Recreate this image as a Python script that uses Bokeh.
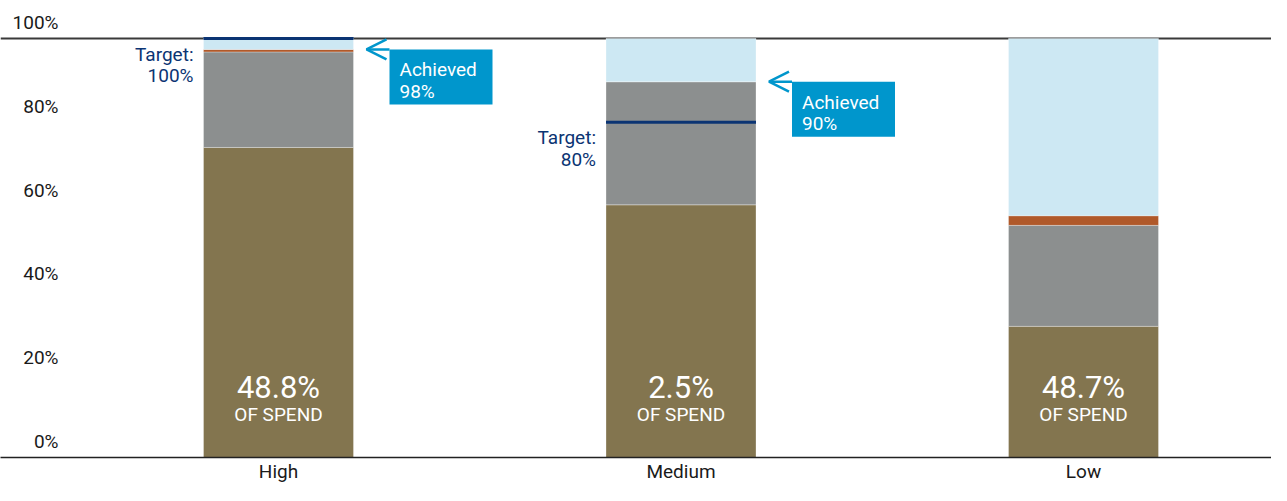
from bokeh.plotting import figure
from bokeh.models import (Range1d, FixedTicker, Span, Label, Arrow, OpenHead,
                          ColumnDataSource)
from bokeh.core.properties import value
from bokeh.embed import file_html
from bokeh.resources import INLINE

# ---------------- data ----------------
categories = ["High", "Medium", "Low"]
seg_base = [74.0, 60.3, 31.3]     # brown
seg_mid = [22.8, 29.4, 24.1]      # grey
seg_top = [0.6, 0.0, 2.3]         # orange
seg_rest = [2.6, 10.3, 42.3]      # light blue
spend_share = ["48.8%", "2.5%", "48.7%"]
targets = [100, 80, None]
achieved = [98, 90, None]
y_ticks = [0, 20, 40, 60, 80, 100]
y_tick_labels = ["0%", "20%", "40%", "60%", "80%", "100%"]

# ---------------- styling ----------------
FONT = "Roboto"
C_BASE = "#83754F"
C_MID = "#8C8F8F"
C_TOP = "#B0592A"
C_REST = "#CDE8F3"
C_NAVY = "#0B3473"
C_CALL = "#0096CC"
C_TEXT = "#1a1a1a"

W_PX, H_PX = 1271, 485
FRAME_H = 457             # frame height left after the x axis panel
TOP_PX = 38               # pixel row of 100%
PX_PER_X = 402.5          # pixels per category step
PX_PER_Y = (FRAME_H - TOP_PX) / 100.0
BAR_W = 150 / PX_PER_X
X_START = 0.5 - 278 / PX_PER_X
X_END = X_START + W_PX / PX_PER_X
Y_END = FRAME_H / PX_PER_Y

xs = [i + 0.5 for i in range(len(categories))]

p = figure(width=W_PX, height=H_PX, output_backend="svg", toolbar_location=None,
           x_range=Range1d(X_START, X_END), y_range=Range1d(0, Y_END),
           min_border_left=0, min_border_right=0, min_border_top=0,
           min_border_bottom=0)
p.outline_line_color = None
p.grid.visible = False
p.yaxis.visible = False
p.background_fill_color = "white"

# top 100% line (behind the bars)
p.add_layout(Span(location=100, dimension="width", line_color="#3a3a3a",
                  line_width=2, level="underlay"))

src = ColumnDataSource(dict(x=xs, base=seg_base, mid=seg_mid, top=seg_top,
                            rest=seg_rest, cat=categories, share=spend_share))
p.vbar_stack(["base", "mid", "top", "rest"], x="x", width=BAR_W,
             color=[C_BASE, C_MID, C_TOP, C_REST], line_color="white",
             line_alpha=0.3, line_width=1, source=src)

# x axis
p.xaxis.ticker = FixedTicker(ticks=xs)
p.xaxis.major_label_overrides = {x: c for x, c in zip(xs, categories)}
p.xaxis.major_tick_line_color = None
p.xaxis.minor_tick_line_color = None
p.xaxis.major_tick_out = 0
p.xaxis.major_tick_in = 0
p.xaxis.minor_tick_out = 0
p.xaxis.axis_line_color = "#222222"
p.xaxis.axis_line_width = 1.5
p.xaxis.major_label_standoff = 2
p.xaxis.major_label_text_font = FONT
p.xaxis.major_label_text_font_size = "19px"
p.xaxis.major_label_text_line_height = 0.8
p.xaxis.major_label_text_color = C_TEXT

# y tick labels (sitting above their value)
for t, lab in zip(y_ticks, y_tick_labels):
    p.add_layout(Label(x=58, x_units="screen", y=t, y_units="data", y_offset=16,
                       text=lab, text_align="right", text_baseline="alphabetic",
                       text_font=FONT, text_font_size="19px", text_color=C_TEXT))

# share-of-spend labels
p.text(x="x", y=0, text="share", source=src, y_offset=-70, text_align="center",
       text_baseline="middle", text_font=value(FONT), text_font_size="31px",
       text_color="white")
p.text(x="x", y=0, text=value("OF SPEND"), source=src, y_offset=-43,
       text_align="center", text_baseline="middle", text_font=value(FONT),
       text_font_size="19px", text_color="white")

# targets and achieved call-outs
for i, (t, a) in enumerate(zip(targets, achieved)):
    if t is None:
        continue
    xc = xs[i]
    left = xc - BAR_W / 2
    right = xc + BAR_W / 2
    p.segment(x0=[left], x1=[right], y0=[t], y1=[t], line_color=C_NAVY,
              line_width=3)
    p.text(x=[left], y=[t], text=[f"Target:\n{t}%"], x_offset=-10, y_offset=4,
           text_align="right", text_baseline="top", text_font=value(FONT),
           text_font_size="19px", text_color=C_NAVY, text_line_height=0.93)

    ya = seg_base[i] + seg_mid[i] + seg_top[i]
    box_l = right + 36 / PX_PER_X
    box_r = right + 139 / PX_PER_X
    tip = right + 13 / PX_PER_X
    p.quad(left=[box_l], right=[box_r], top=[ya], bottom=[ya - 55 / PX_PER_Y],
           fill_color=C_CALL, line_color=None)
    p.add_layout(Arrow(end=OpenHead(size=20, line_width=2.5, line_color=C_CALL),
                       x_start=box_l, x_end=tip, y_start=ya, y_end=ya,
                       line_color=C_CALL, line_width=2.5))
    p.text(x=[box_l], y=[ya], text=[f"Achieved\n{a}%"], x_offset=10, y_offset=9,
           text_align="left", text_baseline="top", text_font=value(FONT),
           text_font_size="19px", text_color="white", text_line_height=0.93)

open("out.html", "w").write(file_html(p, INLINE))
